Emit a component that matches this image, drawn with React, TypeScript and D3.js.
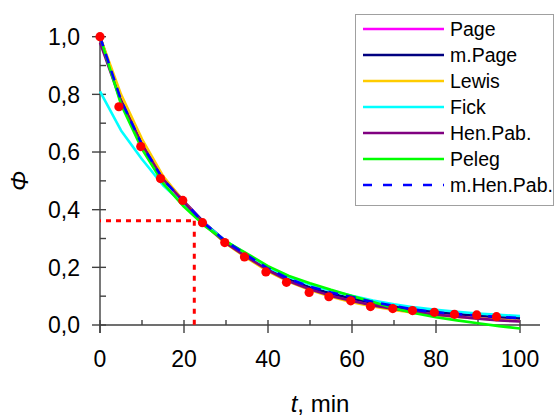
import React from "react";
import * as d3 from "d3";

// ---- data ----
const modelTimes = [0, 5, 10, 15, 20, 25, 30, 35, 40, 45, 50, 55, 60, 65, 70, 75, 80, 85, 90, 95, 100];
const pageVals = [1.0, 0.785, 0.63, 0.51, 0.43, 0.352, 0.288, 0.238, 0.192, 0.156, 0.128, 0.107, 0.09, 0.075, 0.063, 0.052, 0.044, 0.037, 0.031, 0.026, 0.022];
const mPageVals = [1.0, 0.782, 0.628, 0.507, 0.428, 0.352, 0.29, 0.24, 0.194, 0.158, 0.13, 0.109, 0.092, 0.077, 0.064, 0.053, 0.045, 0.038, 0.032, 0.027, 0.023];
const lewisVals = [1.0, 0.8, 0.645, 0.517, 0.428, 0.347, 0.282, 0.232, 0.186, 0.15, 0.121, 0.098, 0.079, 0.064, 0.052, 0.042, 0.034, 0.028, 0.023, 0.018, 0.014];
const fickVals = [0.81, 0.675, 0.575, 0.485, 0.418, 0.35, 0.29, 0.245, 0.2, 0.166, 0.14, 0.119, 0.101, 0.085, 0.072, 0.061, 0.053, 0.046, 0.04, 0.035, 0.031];
const henPabVals = [0.98, 0.775, 0.625, 0.507, 0.426, 0.346, 0.284, 0.235, 0.19, 0.152, 0.124, 0.101, 0.083, 0.068, 0.056, 0.045, 0.036, 0.029, 0.022, 0.016, 0.012];
const pelegVals = [1.0, 0.765, 0.61, 0.492, 0.41, 0.343, 0.29, 0.248, 0.204, 0.17, 0.145, 0.122, 0.101, 0.08, 0.058, 0.041, 0.027, 0.016, 0.006, -0.004, -0.012];
const mHenPabVals = [1.0, 0.78, 0.625, 0.505, 0.428, 0.35, 0.29, 0.242, 0.196, 0.16, 0.133, 0.113, 0.097, 0.08, 0.066, 0.053, 0.044, 0.038, 0.033, 0.028, 0.024];

const expTimes = [0, 4.5, 9.7, 14.4, 19.7, 24.4, 29.7, 34.4, 39.5, 44.4, 49.8, 54.5, 59.7, 64.4, 69.7, 74.4, 79.6, 84.4, 89.7, 94.4];
const expPhi = [1.0, 0.757, 0.619, 0.508, 0.432, 0.355, 0.286, 0.236, 0.184, 0.148, 0.113, 0.098, 0.084, 0.064, 0.057, 0.05, 0.044, 0.037, 0.035, 0.029];

const seriesNames = ["Page", "m.Page", "Lewis", "Fick", "Hen.Pab.", "Peleg", "m.Hen.Pab."];
const seriesValues = [pageVals, mPageVals, lewisVals, fickVals, henPabVals, pelegVals, mHenPabVals];
const seriesColors = ["#FF00FF", "#000080", "#FFCC00", "#00FFFF", "#800080", "#00FF00", "#0000FF"];
const seriesDashed = [false, false, false, false, false, false, true];

const xTicksMajor = [0, 20, 40, 60, 80, 100];
const xTicksMinor = [10, 30, 50, 70, 90];
const yTicksMajor = [0, 0.2, 0.4, 0.6, 0.8, 1.0];
const yTicksMinor = [0.1, 0.3, 0.5, 0.7, 0.9];

const refTime = 22.45;
const refPhi = 0.362;

export default function App() {
  const W = 556, H = 417;
  const x = d3.scaleLinear().domain([0, 100]).range([100, 520]);
  const y = d3.scaleLinear().domain([0, 1]).range([325, 36.7]);
  const line = d3.line<[number, number]>().x(d => x(d[0])).y(d => y(d[1]));
  const fmt = (v: number) => v.toFixed(1).replace(".", ",");
  const axisColor = "#404040";
  const font = "'Liberation Sans', Arial, sans-serif";

  return (
    <svg width={W} height={H} style={{ position: "absolute", left: 0, top: 0, background: "#fff" }} fontFamily={font}>
      {/* axes */}
      <line x1={x(0)} x2={540} y1={y(0)} y2={y(0)} stroke={axisColor} strokeWidth={1.4} />
      <line x1={x(0)} x2={x(0)} y1={y(1) - 3} y2={y(0) + 8} stroke={axisColor} strokeWidth={1.4} />
      {xTicksMajor.map(t => (
        <g key={"xm" + t}>
          <line x1={x(t)} x2={x(t)} y1={y(0) - 5} y2={y(0) + 8} stroke={axisColor} strokeWidth={1.4} />
          <text x={x(t)} y={367} textAnchor="middle" fontSize={23}>{t}</text>
        </g>
      ))}
      {xTicksMinor.map(t => (
        <line key={"xn" + t} x1={x(t)} x2={x(t)} y1={y(0) - 5} y2={y(0)} stroke={axisColor} strokeWidth={1.4} />
      ))}
      {yTicksMajor.map(v => (
        <g key={"ym" + v}>
          <line x1={x(0) - 8} x2={x(0) + 6} y1={y(v)} y2={y(v)} stroke={axisColor} strokeWidth={1.4} />
          <text x={80} y={y(v) + 8.2} textAnchor="end" fontSize={23}>{fmt(v)}</text>
        </g>
      ))}
      {yTicksMinor.map(v => (
        <line key={"yn" + v} x1={x(0)} x2={x(0) + 6} y1={y(v)} y2={y(v)} stroke={axisColor} strokeWidth={1.4} />
      ))}

      {/* axis titles */}
      <text x={320} y={412} textAnchor="middle" fontSize={24}>
        <tspan fontStyle="italic">t</tspan>, min
      </text>
      <text transform="translate(28,181) rotate(-90)" textAnchor="middle" fontSize={24} fontStyle="italic">Φ</text>

      {/* reference dotted lines */}
      <line x1={x(0)} x2={x(refTime)} y1={y(refPhi)} y2={y(refPhi)} stroke="#FF0000" strokeWidth={3} strokeDasharray="5,5" strokeDashoffset={-6} />
      <line x1={x(refTime)} x2={x(refTime)} y1={y(refPhi)} y2={y(0)} stroke="#FF0000" strokeWidth={3} strokeDasharray="5,6" />

      {/* model curves */}
      {seriesValues.map((vals, i) => (
        <path key={seriesNames[i]}
          d={line(modelTimes.map((t, j) => [t, vals[j]] as [number, number])) || ""}
          fill="none" stroke={seriesColors[i]} strokeWidth={2.6}
          strokeDasharray={seriesDashed[i] ? "10,8" : undefined} strokeLinejoin="round" />
      ))}

      {/* experimental points */}
      {expTimes.map((t, i) => (
        <circle key={"p" + i} cx={x(t)} cy={y(expPhi[i])} r={4.6} fill="#FF0000" />
      ))}

      {/* legend */}
      <rect x={355.5} y={14.5} width={198} height={191} fill="#fff" stroke="#A0A0A0" strokeWidth={1} />
      {seriesNames.map((name, i) => {
        const cy = 29 + i * 26;
        return (
          <g key={"lg" + name}>
            <line x1={363} x2={444} y1={cy} y2={cy} stroke={seriesColors[i]} strokeWidth={2.6}
              strokeDasharray={seriesDashed[i] ? "9,11" : undefined} />
            <text x={450} y={cy + 7} fontSize={19.5}>{name}</text>
          </g>
        );
      })}
    </svg>
  );
}
